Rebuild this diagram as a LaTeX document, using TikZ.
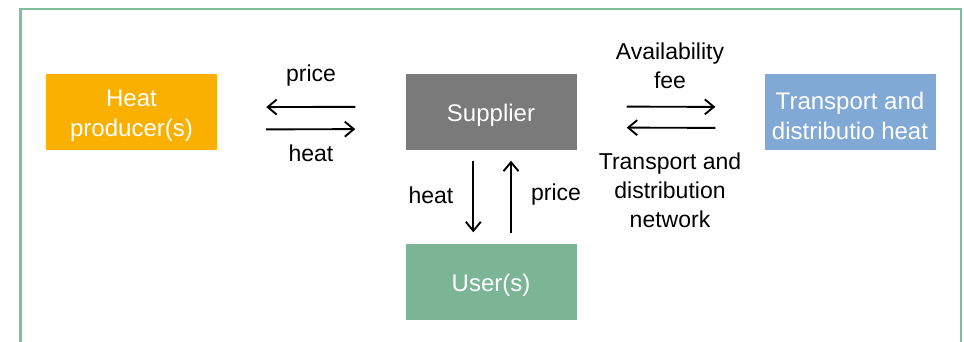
\documentclass[tikz,border=0pt]{standalone}
\usepackage{fontspec}
\setmainfont{Liberation Sans}
\usetikzlibrary{arrows.meta}

\definecolor{prodcol}{HTML}{F9B000}
\definecolor{supcol}{HTML}{7A7A7A}
\definecolor{usercol}{HTML}{7BB595}
\definecolor{netcol}{HTML}{81A9D6}
\definecolor{framecol}{HTML}{7FBF9B}

\tikzset{
  actor/.style={minimum width=171pt, minimum height=76pt, inner sep=0pt},
  actortext/.style={text=white, align=center, inner sep=0pt, yshift=-4pt,
    font=\fontsize{24}{30}\selectfont},
  flow/.style={line width=1.9pt, -{Straight Barb[length=9pt,width=15pt,line width=1.9pt]}},
  lbl/.style={align=center, inner sep=0pt, text=black, font=\fontsize{23}{29}\selectfont}
}

\begin{document}
\begin{tikzpicture}[x=1pt, y=-1pt]
  \useasboundingbox (0,0) rectangle (964,341);
  \begin{scope}
    \clip (0,0) rectangle (964,341);
    \draw[framecol, line width=2.5pt] (20.5,9) rectangle (961,360);
  \end{scope}

  % market actors
  \node[actor, fill=prodcol, label={[actortext]center:Heat\\producer(s)}] (hp) at (131.5,112) {};
  \node[actor, fill=supcol, label={[actortext]center:Supplier}] (sup) at (491,111.5) {};
  \node[actor, fill=usercol, label={[actortext]center:User(s)}] (usr) at (491,281.5) {};
  \node[actor, fill=netcol, label={[actortext]center:Transport and\\distributio heat}] (tr) at (850,112) {};

  % producer <-> supplier
  \draw[flow, shorten <=50pt, shorten >=49pt] ([yshift=4.8pt]sup.west) -- ([yshift=4.8pt]hp.east);
  \draw[flow, shorten <=49pt, shorten >=50pt] ([yshift=-17.5pt]hp.east) -- ([yshift=-17.5pt]sup.west);
  \node[lbl] (lp1) at (311,76)  {price};
  \node[lbl] (lh1) at (311,153) {heat};

  % supplier <-> user
  \draw[flow, shorten <=11pt, shorten >=11pt] ([xshift=-17.7pt]sup.south) -- ([xshift=-17.7pt]usr.north);
  \draw[flow, shorten <=10pt, shorten >=11pt] ([xshift=20pt]usr.north) -- ([xshift=20pt]sup.south);
  \node[lbl] (lh2) at (431,195) {heat};
  \node[lbl] (lp2) at (556,195) {price};

  % supplier <-> network operator
  \draw[flow, shorten <=50pt, shorten >=49pt] ([yshift=5pt]sup.east) -- ([yshift=5pt]tr.west);
  \draw[flow, shorten <=49pt, shorten >=50pt] ([yshift=-16pt]tr.west) -- ([yshift=-16pt]sup.east);
  \node[lbl] (lfee) at (670,66)  {Availability\\fee};
  \node[lbl] (lnet) at (670,190) {Transport and\\distribution\\network};
\end{tikzpicture}
\end{document}
